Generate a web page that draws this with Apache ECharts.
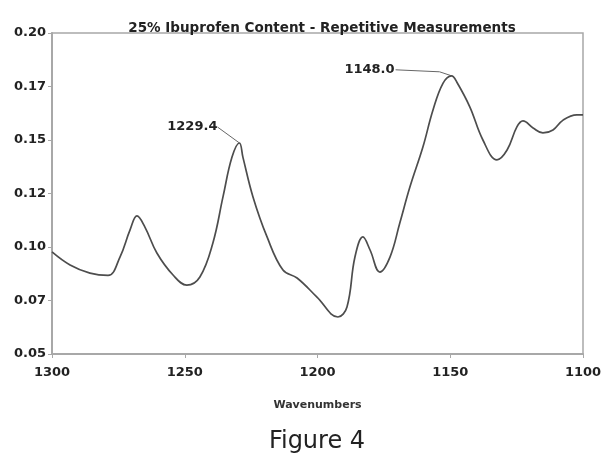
<!DOCTYPE html>
<html>
<head>
<meta charset="utf-8">
<script src="https://cdn.jsdelivr.net/npm/echarts@6/dist/echarts.min.js"></script>
<style>
  html, body { margin: 0; padding: 0; background: #fff; }
  #chart { width: 605px; height: 460px; }
</style>
</head>
<body>
<div id="chart"></div>
<script>
// wavenumbers (cm-1) and absorbance
const wavenumbers = [1300, 1293.2, 1285.7, 1278.9, 1274.4, 1270.6, 1268, 1265, 1260.5, 1254.4,
  1249.2, 1244.3, 1239.4, 1235.6, 1232.2, 1229.4, 1228.1, 1224.3, 1219, 1213,
  1207.7, 1200.2, 1192.3, 1188.9, 1185.9, 1182.9, 1180.2, 1176.5, 1172.7, 1169,
  1165.2, 1160.3, 1156.5, 1152.7, 1149.5, 1147.5, 1142.6, 1137.7, 1132.4, 1128.6,
  1124.9, 1122.6, 1118.8, 1115.1, 1111.3, 1107.5, 1102.3, 1100];
const absorbance = [0.0977, 0.0916, 0.0878, 0.0867, 0.0953, 0.108, 0.1145, 0.1093, 0.0972, 0.0869,
  0.0822, 0.086, 0.1019, 0.1234, 0.142, 0.1486, 0.142, 0.1234, 0.1047, 0.0892,
  0.0855, 0.0766, 0.0673, 0.072, 0.0953, 0.1047, 0.0986, 0.0883, 0.0953, 0.1112,
  0.128, 0.1467, 0.164, 0.1766, 0.18, 0.177, 0.1654, 0.15, 0.1407, 0.1453,
  0.1561, 0.1589, 0.1556, 0.1533, 0.1547, 0.1593, 0.1617, 0.1617];
const yTicks = ['0.05', '0.07', '0.10', '0.12', '0.15', '0.17', '0.20'];
const peaks = [
  { name: '1229.4', x: 1229.4, y: 0.1486 },
  { name: '1148.0', x: 1149.5, y: 0.18 }
];

const FONT = 'DejaVu Sans';
const chart = echarts.init(document.getElementById('chart'));
const seriesData = wavenumbers.map((w, i) => [w, absorbance[i]]);

const option = {
  animation: false,
  title: {
    text: '25% Ibuprofen Content - Repetitive Measurements',
    left: 317,
    textAlign: 'center',
    top: 16,
    textStyle: { fontFamily: FONT, fontSize: 13.5, fontWeight: 'bold', color: '#222' }
  },
  grid: {
    left: 52, right: 22, top: 33, bottom: 106,
    show: true, borderColor: '#a8a8a8', borderWidth: 1.5
  },
  xAxis: {
    type: 'value', min: 1100, max: 1300, interval: 50, inverse: true,
    name: 'Wavenumbers', nameLocation: 'middle', nameGap: 46,
    nameTextStyle: { fontFamily: FONT, fontSize: 11, fontWeight: 'bold', color: '#333' },
    axisLine: { lineStyle: { color: '#a8a8a8', width: 2 } },
    axisTick: { length: 4, lineStyle: { color: '#a8a8a8' } },
    splitLine: { show: false },
    axisLabel: {
      fontFamily: FONT, fontSize: 13, fontWeight: 'bold', color: '#222', margin: 12,
      formatter: v => String(v)
    }
  },
  yAxis: {
    type: 'value', min: 0.05, max: 0.2, interval: 0.025,
    axisLine: { show: true, lineStyle: { color: '#a8a8a8', width: 2 } },
    axisTick: { show: true, length: 4, lineStyle: { color: '#a8a8a8' } },
    splitLine: { show: false },
    axisLabel: {
      fontFamily: FONT, fontSize: 13, fontWeight: 'bold', color: '#222', margin: 6,
      formatter: v => yTicks[Math.round((v - 0.05) / 0.025)]
    }
  },
  series: [{
    type: 'line',
    data: seriesData,
    smooth: 0.4,
    symbol: 'none',
    lineStyle: { color: '#4d4d4d', width: 1.7 }
  }],
  graphic: []
};
chart.setOption(option);

// peak annotations with leader lines, positioned through the axes
const g = [];
const p1 = chart.convertToPixel({ gridIndex: 0 }, [peaks[0].x, peaks[0].y]);
g.push({ type: 'polyline', shape: { points: [[p1[0] - 22, p1[1] - 16], p1] }, style: { stroke: '#666', lineWidth: 1 } });
g.push({ type: 'text', x: p1[0] - 22, y: p1[1] - 16, style: { text: peaks[0].name, align: 'right', verticalAlign: 'middle', font: 'bold 13px "DejaVu Sans"', fill: '#222' } });
const p2 = chart.convertToPixel({ gridIndex: 0 }, [peaks[1].x, peaks[1].y]);
g.push({ type: 'polyline', shape: { points: [[p2[0] - 56, p2[1] - 6], [p2[0] - 12, p2[1] - 4], p2] }, style: { stroke: '#666', lineWidth: 1 } });
g.push({ type: 'text', x: p2[0] - 57, y: p2[1] - 6, style: { text: peaks[1].name, align: 'right', verticalAlign: 'middle', font: 'bold 13px "DejaVu Sans"', fill: '#222' } });
g.push({ type: 'text', x: 317, y: 442, style: { text: 'Figure 4', align: 'center', verticalAlign: 'middle', font: '24px "DejaVu Sans"', fill: '#222' } });
chart.setOption({ graphic: g });
</script>
</body>
</html>
